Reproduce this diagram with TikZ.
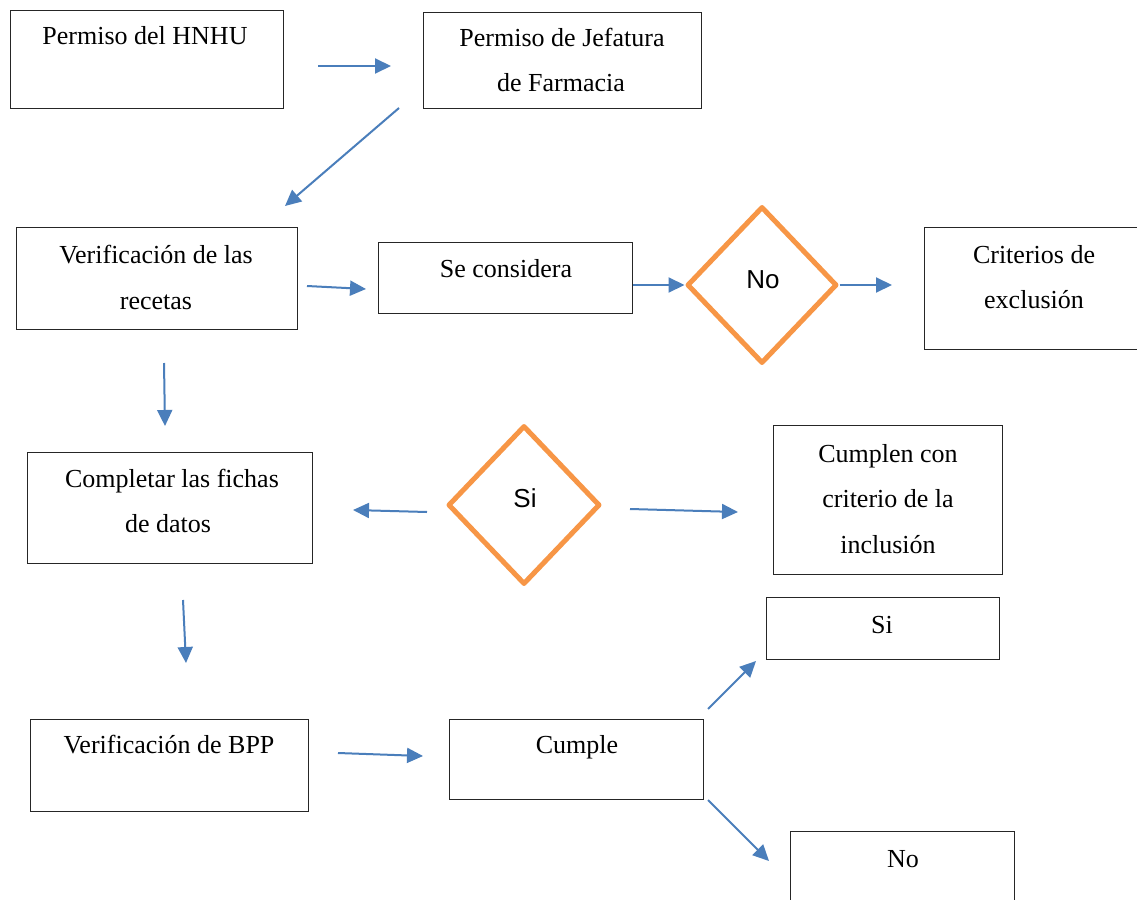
\documentclass[tikz,border=0pt]{standalone}
\usepackage{fontspec}
\setmainfont{Liberation Serif}
\newfontfamily\arialfont{Liberation Sans}
\usetikzlibrary{arrows.meta,shapes.geometric}
\definecolor{arrblue}{HTML}{4A7EBB}
\definecolor{dorange}{HTML}{F79646}
\begin{document}
\begin{tikzpicture}[x=1pt,y=-1pt,
  box/.style={draw=black!85, line width=1.4pt, inner sep=0pt, anchor=north west},
  txt/.style={font=\fontsize{26}{46}\selectfont, anchor=base, inner sep=0pt},
  dtxt/.style={font=\arialfont\fontsize{26}{30}\selectfont, anchor=base, inner sep=0pt},
  dec/.style={diamond, draw=dorange, line width=5pt, inner sep=0pt, line join=round},
  arr/.style={draw=arrblue, line width=2pt, -{Triangle[length=16pt,width=15pt]}}
]
\path[use as bounding box, clip] (0,0) rectangle (1137,899);
\fill[white] (0,0) rectangle (1137,899);

% boxes
\node[box, minimum width=273pt, minimum height=98pt] (b1) at (10,10) {};
\node[box, minimum width=278pt, minimum height=96pt] (b2) at (423,12) {};
\node[box, minimum width=281pt, minimum height=102pt] (b3) at (16,227) {};
\node[box, minimum width=254pt, minimum height=71pt] (b4) at (378,242) {};
\node[box, minimum width=240pt, minimum height=122pt] (b6) at (924,227) {};
\node[box, minimum width=285pt, minimum height=111pt] (b8) at (27,452) {};
\node[box, minimum width=229pt, minimum height=149pt] (b10) at (773,425) {};
\node[box, minimum width=278pt, minimum height=92pt] (b11) at (30,719) {};
\node[box, minimum width=254pt, minimum height=80pt] (b12) at (449,719) {};
\node[box, minimum width=233pt, minimum height=62pt] (b13) at (766,597) {};
\node[box, minimum width=224pt, minimum height=100pt] (b14) at (790,831) {};

% decisions
\node[dec, minimum width=150pt, minimum height=157pt] (d1) at (762,285) {};
\node[dec, minimum width=152pt, minimum height=159pt] (d2) at (524,505) {};

% texts
\node[txt] (t1) at (145,45) {Permiso del HNHU};
\node[txt] (t2a) at (562,47) {Permiso de Jefatura};
\node[txt] (t2b) at (561,92) {de Farmacia};
\node[txt] (t3a) at (156,263) {Verificación de las};
\node[txt] (t3b) at (156,309) {recetas};
\node[txt] (t4) at (506,277) {Se considera};
\node[txt] (t6a) at (1034,263) {Criterios de};
\node[txt] (t6b) at (1034,308) {exclusión};
\node[txt] (t8a) at (172,487) {Completar las fichas};
\node[txt] (t8b) at (168,532) {de datos};
\node[txt] (t10a) at (888,462) {Cumplen con};
\node[txt] (t10b) at (888,507) {criterio de la};
\node[txt] (t10c) at (888,553) {inclusión};
\node[txt] (t11) at (169,753) {Verificación de BPP};
\node[txt] (t12) at (577,753) {Cumple};
\node[txt] (t13) at (882,633) {Si};
\node[txt] (t14) at (903,867) {No};
\node[dtxt] (dn) at (763,288) {No};
\node[dtxt] (ds) at (525,507) {Si};

% arrow end points
\coordinate (a1s) at (318,66);  \coordinate (a1e) at (391,66);
\coordinate (a2s) at (399,108); \coordinate (a2e) at (285,206);
\coordinate (a3s) at (307,286); \coordinate (a3e) at (366,289);
\coordinate (a4s) at (164,363); \coordinate (a4e) at (165,426);
\coordinate (a6e) at (892,285);
\coordinate (a7s) at (427,512); \coordinate (a7e) at (353,510);
\coordinate (a8s) at (630,509); \coordinate (a8e) at (738,512);
\coordinate (a9s) at (183,600); \coordinate (a9e) at (186,663);
\coordinate (a10s) at (338,753); \coordinate (a10e) at (423,756);
\coordinate (a11s) at (708,709); \coordinate (a11e) at (756,661);
\coordinate (a12s) at (708,800); \coordinate (a12e) at (769,861);

% connectors
\draw[arr] (a1s) -- (a1e);
\draw[arr] (a2s) -- (a2e);
\draw[arr] (a3s) -- (a3e);
\draw[arr] (a4s) -- (a4e);
\draw[arr] (b4.east |- d1.west) -- (d1.west);
\draw[arr] (d1.east) -- (a6e);
\draw[arr] (a7s) -- (a7e);
\draw[arr] (a8s) -- (a8e);
\draw[arr] (a9s) -- (a9e);
\draw[arr] (a10s) -- (a10e);
\draw[arr] (a11s) -- (a11e);
\draw[arr] (a12s) -- (a12e);
\end{tikzpicture}
\end{document}
